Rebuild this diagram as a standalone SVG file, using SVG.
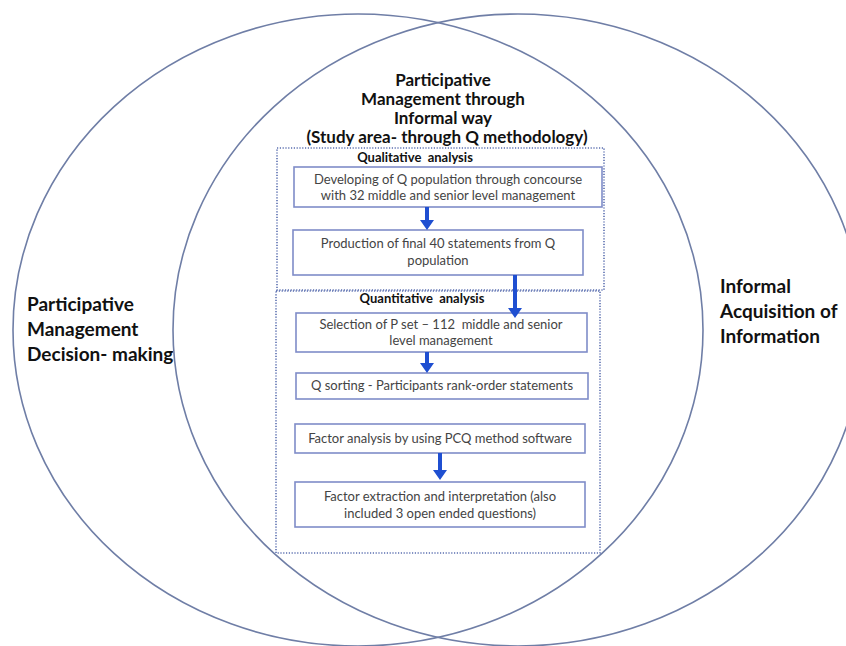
<svg xmlns="http://www.w3.org/2000/svg" width="846" height="646" viewBox="0 0 846 646">
<defs>
<style>
.circ{fill:none;stroke:#6f7ea6;stroke-width:1.6}
.dot{fill:none;stroke:#5b6fb0;stroke-width:1.6;stroke-dasharray:1.2 1.6}
.box{fill:#ffffff;stroke:#7f8cc8;stroke-width:1.6}
.big{font-family:Lato,"Open Sans",sans-serif;font-weight:bold;font-size:19px;fill:#111}
.ttl{font-family:Lato,"Open Sans",sans-serif;font-weight:bold;font-size:17px;fill:#111;text-anchor:middle}
.sub{font-family:Lato,"Open Sans",sans-serif;font-weight:bold;font-size:13px;fill:#111;text-anchor:middle}
.txt{font-family:Lato,"Open Sans",sans-serif;font-size:13px;fill:#444;text-anchor:middle}
.arr{fill:#1f4fd1}
</style>
</defs>
<rect width="846" height="646" fill="#ffffff"/>
<g id="circle-left">
<ellipse class="circ" cx="358" cy="330" rx="345" ry="316"/>
<text class="big" x="27" y="311">Participative</text>
<text class="big" x="27" y="336">Management</text>
<text class="big" x="27" y="361">Decision- making</text>
</g>
<g id="circle-right">
<ellipse class="circ" cx="518" cy="330" rx="345" ry="316"/>
<text class="big" x="720" y="293">Informal</text>
<text class="big" x="720" y="318">Acquisition of</text>
<text class="big" x="720" y="343">Information</text>
</g>
<g id="title">
<text class="ttl" x="443" y="86">Participative</text>
<text class="ttl" x="443" y="105">Management through</text>
<text class="ttl" x="443" y="124">Informal way</text>
<text class="ttl" x="447" y="143">(Study area- through Q methodology)</text>
</g>
<g id="qualitative">
<rect class="dot" x="277" y="148" width="327" height="142"/>
<text class="sub" x="415" y="162" xml:space="preserve">Qualitative  analysis</text>
</g>
<g id="quantitative">
<rect class="dot" x="276" y="291" width="324" height="262"/>
<text class="sub" x="422" y="303" xml:space="preserve">Quantitative  analysis</text>
</g>
<g id="box1">
<rect class="box" x="294" y="167" width="308" height="40"/>
<text class="txt" x="448" y="184">Developing of Q population through concourse</text>
<text class="txt" x="448" y="200">with 32 middle and senior level management</text>
</g>
<g id="box2">
<rect class="box" x="293" y="230" width="290" height="45"/>
<text class="txt" x="438" y="248">Production of final 40 statements from Q</text>
<text class="txt" x="438" y="265">population</text>
</g>
<g id="box3">
<rect class="box" x="296" y="313" width="291" height="39"/>
<text class="txt" x="441" y="329" xml:space="preserve">Selection of P set – 112  middle and senior</text>
<text class="txt" x="441" y="345">level management</text>
</g>
<g id="box4">
<rect class="box" x="296" y="373" width="292" height="26"/>
<text class="txt" x="442" y="390">Q sorting - Participants rank-order statements</text>
</g>
<g id="box5">
<rect class="box" x="295" y="424" width="290" height="29"/>
<text class="txt" x="440" y="443">Factor analysis by using PCQ method software</text>
</g>
<g id="box6">
<rect class="box" x="295" y="482" width="290" height="45"/>
<text class="txt" x="440" y="501">Factor extraction and interpretation (also</text>
<text class="txt" x="440" y="518">included 3 open ended questions)</text>
</g>
<g id="connectors">
<path class="arr" d="M425,207 h4 v13 h5 l-7,10 l-7,-10 h5 z"/>
<path class="arr" d="M513,275 h4 v33 h5 l-7,10 l-7,-10 h5 z"/>
<path class="arr" d="M425,352 h4 v11 h5 l-7,10 l-7,-10 h5 z"/>
<path class="arr" d="M438,453 h4 v17 h5 l-7,10 l-7,-10 h5 z"/>
</g>
</svg>
